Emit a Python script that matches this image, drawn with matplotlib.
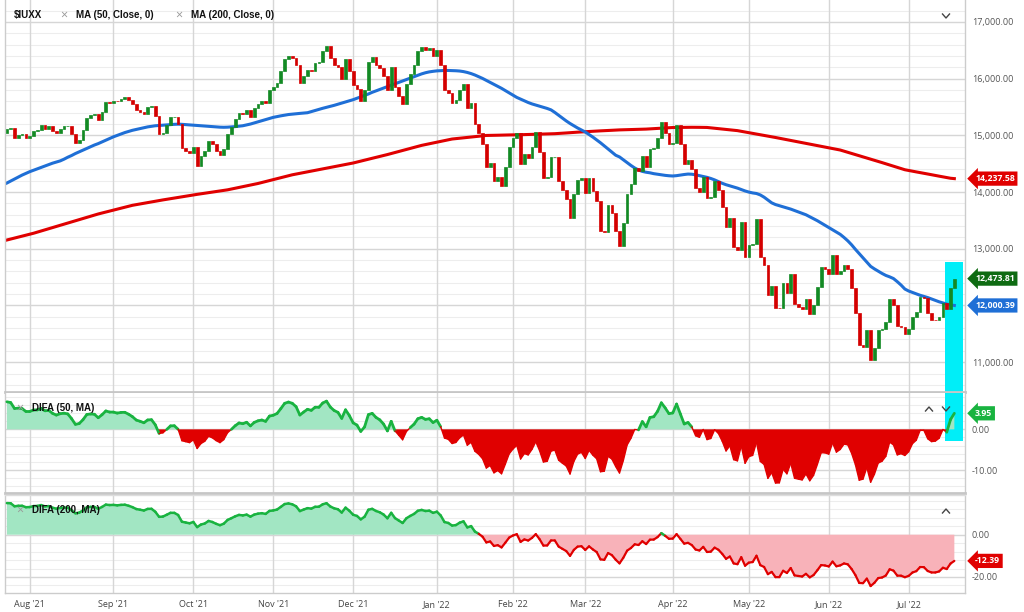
import numpy as np
import pandas as pd
import matplotlib
matplotlib.use("Agg")
import matplotlib.pyplot as plt
from matplotlib.collections import LineCollection
from matplotlib.lines import Line2D
from matplotlib.patches import Rectangle

plt.rcParams['font.family'] = ['Open Sans', 'DejaVu Sans']

# trading days shown (NYSE calendar)
holidays = ['2021-09-06', '2021-11-25', '2021-12-24', '2022-01-17', '2022-02-21',
            '2022-04-15', '2022-05-30', '2022-06-20', '2022-07-04']
dates = pd.bdate_range('2021-07-23', '2022-07-20', freq='C', holidays=holidays)

# daily closes of $IUXX
prev_close = 15050
close = [
    15120, 15130, 14960, 15010, 15030, 14960,
    14990, 15070, 15100, 15180, 15120, 15160, 15080, 15040, 15110, 15160,
    15170, 15030, 14860, 14920, 15090, 15310, 15360, 15380, 15280, 15420,
    15590, 15580,
    15610, 15600, 15650, 15680, 15630, 15560, 15450, 15420, 15380, 15500,
    15520, 15340, 15020, 15050, 15180, 15320, 15330, 15200, 14770, 14730,
    14690,
    14790, 14460, 14640, 14720, 14900, 14840, 14730, 14650, 14760, 15020,
    15150, 15290, 15400, 15380, 15450, 15330, 15480, 15560, 15610, 15580,
    15800,
    15850, 15930, 16130, 16340, 16400, 16360, 16240, 15930, 16050, 16160,
    16140, 16280, 16300, 16480, 16570, 16360, 16250, 16200, 15990, 16340,
    16140,
    15880, 15820, 15600, 15800, 16300, 16380, 16250, 16180, 16040, 15800,
    16200, 15850, 15700, 15550, 15900, 16080, 16240, 16480, 16560, 16500,
    16540, 16400,
    16500, 16250, 15800, 15750, 15580, 15620, 15800, 15900, 15480, 15580,
    15200, 15050, 14850, 14450, 14520, 14200, 14260, 14100, 14440, 14800,
    14950, 15050, 14500, 14680, 14600, 14790, 15060, 14700, 14250, 14260,
    14620, 14620, 14190, 14030, 13880, 13540, 13970, 14210, 14240,
    13980, 14240, 14020, 13840, 13320, 13290, 13780, 13630, 13310, 13050,
    13450, 13960, 14150, 14420, 14370, 14640, 14440, 14760, 14770, 14950,
    15240, 15050, 14840,
    14860, 15180, 14840, 14500, 14560, 14400, 14080, 14010, 14270, 13900,
    13920, 14200, 14040, 13740, 13380, 13540, 13040, 12980, 13470, 12850,
    13060, 13090, 13530, 12850, 12710, 12190, 12340, 11960, 11950, 12390,
    12220, 12560, 12030, 11980, 11930, 12110, 11850, 12000, 12330, 12680,
    12640,
    12560, 12890, 12550, 12600, 12720, 12640, 12300, 11860, 11300, 11270,
    11570, 11040, 11250, 11560, 11580, 11700, 12110, 12000, 11640, 11620,
    11500,
    11580, 11800, 11880, 12150, 12130, 11860, 11750, 11740, 11800, 12040,
    11940, 12300, 12473.81,
]

# MA (50, Close)
ma50 = [
    14160, 14195, 14230, 14265, 14300, 14330, 14360, 14385, 14410, 14435,
    14460, 14485, 14510, 14530, 14550, 14580, 14615, 14645, 14680, 14710,
    14740, 14770, 14800, 14830, 14855, 14885, 14915, 14945, 14975, 15000,
    15025, 15050, 15070, 15090, 15105, 15120, 15135, 15150, 15160, 15170,
    15175, 15180, 15185, 15190, 15195, 15198, 15195, 15190, 15185, 15180,
    15175, 15170, 15165, 15160, 15155, 15150, 15145, 15143, 15145, 15150,
    15155, 15162, 15170, 15185, 15200, 15220, 15240, 15260, 15280, 15300,
    15318, 15332, 15345, 15357, 15368, 15375, 15382, 15388, 15394, 15400,
    15420, 15440, 15460, 15478, 15495, 15510, 15530, 15550, 15570, 15590,
    15610, 15630, 15655, 15680, 15705, 15730, 15760, 15785, 15810, 15835,
    15860, 15885, 15910, 15935, 15960, 15985, 16010, 16035, 16060, 16085,
    16105, 16120, 16130, 16138, 16142, 16145, 16145, 16143, 16140, 16135,
    16125, 16110, 16090, 16065, 16035, 16005, 15970, 15935, 15900, 15865,
    15830, 15790, 15750, 15710, 15670, 15640, 15610, 15580, 15555, 15535,
    15515, 15495, 15475, 15450, 15405, 15355, 15305, 15255, 15210, 15170,
    15130, 15095, 15060, 15015, 14970, 14920, 14870, 14815, 14760, 14705,
    14650, 14620, 14570, 14520, 14470, 14425, 14390, 14365, 14350, 14340,
    14325, 14315, 14305, 14295, 14288, 14284, 14290, 14300, 14310, 14318,
    14315, 14305, 14290, 14275, 14260, 14240, 14215, 14185, 14155, 14130,
    14110, 14090, 14070, 14045, 14020, 14000, 13985, 13975, 13950, 13910,
    13860, 13810, 13780, 13760, 13740, 13720, 13700, 13675, 13650, 13625,
    13600, 13565, 13530, 13495, 13455, 13415, 13375, 13335, 13295, 13255,
    13200, 13140, 13070, 12990, 12915, 12840, 12765, 12690, 12645, 12605,
    12565, 12530, 12505, 12475, 12420, 12360, 12290, 12255, 12230, 12205,
    12180, 12160, 12140, 12115, 12090, 12065, 12045, 12025, 12010, 12000.39,
]

# MA (200, Close)
ma200 = [
    13155, 13172, 13189, 13206, 13223, 13240, 13257, 13274, 13294, 13314,
    13334, 13354, 13374, 13394, 13414, 13434, 13454, 13474, 13494, 13514,
    13534, 13554, 13574, 13594, 13614, 13631, 13648, 13665, 13682, 13699,
    13716, 13733, 13750, 13767, 13779, 13791, 13803, 13815, 13827, 13839,
    13851, 13862, 13873, 13884, 13895, 13906, 13917, 13928, 13939, 13950,
    13960, 13970, 13980, 13990, 14000, 14010, 14020, 14030, 14040, 14054,
    14068, 14082, 14096, 14110, 14124, 14138, 14152, 14169, 14186, 14203,
    14220, 14237, 14254, 14271, 14288, 14305, 14318, 14331, 14344, 14357,
    14370, 14383, 14396, 14409, 14422, 14435, 14448, 14461, 14474, 14487,
    14500, 14513, 14530, 14546, 14563, 14579, 14596, 14612, 14629, 14645,
    14662, 14680, 14698, 14716, 14734, 14752, 14770, 14788, 14806, 14824,
    14838, 14852, 14866, 14880, 14894, 14908, 14922, 14936, 14943, 14950,
    14957, 14964, 14971, 14978, 14985, 14992, 14999, 15000, 15002, 15003,
    15005, 15006, 15008, 15009, 15011, 15012, 15014, 15016, 15018, 15020,
    15022, 15024, 15026, 15028, 15030, 15034, 15039, 15043, 15048, 15052,
    15057, 15061, 15066, 15069, 15073, 15076, 15080, 15083, 15087, 15090,
    15094, 15097, 15099, 15101, 15103, 15105, 15107, 15109, 15111, 15115,
    15119, 15123, 15127, 15131, 15135, 15139, 15140, 15141, 15142, 15143,
    15143, 15143, 15142, 15141, 15140, 15133, 15126, 15119, 15112, 15105,
    15098, 15091, 15084, 15072, 15060, 15048, 15036, 15024, 15012, 15000,
    14988, 14976, 14963, 14950, 14937, 14924, 14911, 14898, 14885, 14872,
    14859, 14846, 14833, 14820, 14807, 14794, 14781, 14768, 14755, 14742,
    14722, 14702, 14682, 14662, 14642, 14622, 14602, 14582, 14562, 14541,
    14520, 14499, 14478, 14457, 14436, 14415, 14394, 14381, 14369, 14356,
    14344, 14331, 14319, 14306, 14294, 14281, 14269, 14256, 14244, 14237.58,
]

close = np.array(close, dtype=float)
ma50 = np.array(ma50, dtype=float)
ma200 = np.array(ma200, dtype=float)
x = np.arange(len(close))
opens = np.r_[prev_close, close[:-1]]

# DIFA = percent distance of close from the moving average
difa50 = (close / ma50 - 1) * 100
difa200 = (close / ma200 - 1) * 100

GREEN_C = '#138a24'
RED_C = '#d40000'
BLUE = '#1f6fd6'
RED = '#e00000'
LGREEN = '#19b340'
MINT = '#a2e6c3'
PINK = '#f8b2b9'
CYAN = '#00eef8'
GRID = '#d6d6d6'
MINOR = '#ededed'
SEP = '#c6c6c6'

W, H = 1024, 612
fig = plt.figure(figsize=(W / 100, H / 100), dpi=100)


def px_axes(x0, y0, x1, y1):
    return fig.add_axes([x0 / W, 1 - y1 / H, (x1 - x0) / W, (y1 - y0) / H])


ax1 = px_axes(5, 0, 965, 392)
ax2 = px_axes(5, 393, 965, 493)
ax3 = px_axes(5, 495, 965, 593)

month_idx = [i for i in range(1, len(dates)) if dates[i].month != dates[i - 1].month]
month_lab = [dates[i].strftime("%b '%y") for i in month_idx]

for ax in (ax1, ax2, ax3):
    ax.set_xlim(-0.5, 251.8)
    ax.set_facecolor('white')
    for i in month_idx:
        ax.axvline(i, color=GRID, lw=1, zorder=0.5)
    ax.yaxis.tick_right()
    ax.tick_params(axis='y', length=0, pad=5, labelsize=6.5, labelcolor='#555555')
    ax.tick_params(axis='x', length=0)
    ax.set_xticks([])
    for s in ('left', 'right'):
        ax.spines[s].set_color('#cccccc')
        ax.spines[s].set_linewidth(1)
    ax.spines['top'].set_visible(False)
    ax.spines['bottom'].set_color(SEP)
    ax.spines['bottom'].set_linewidth(2)
ax3.spines['top'].set_visible(True)
ax3.spines['top'].set_color('#dddddd')
ax3.spines['top'].set_linewidth(1)
ax3.spines['bottom'].set_linewidth(1)
ax3.spines['bottom'].set_color('#cccccc')


def hgrid(ax, majors, minors):
    for v in minors:
        ax.axhline(v, color=MINOR, lw=0.8, zorder=0.4)
    for v in majors:
        ax.axhline(v, color=GRID, lw=1, zorder=0.6)


# ---- price panel
ax1.set_ylim(10474, 17388)
majors = np.arange(11000, 17001, 1000)
hgrid(ax1, majors, np.arange(10600, 17400, 200))
# the 12,000 label sits under the MA(50) value tag
shown = [v for v in majors if v != 12000]
ax1.set_yticks(shown)
ax1.set_yticklabels([f'{v:,.2f}' for v in shown])

ax1.add_patch(Rectangle((246.5, 10474), 4.7, 12767 - 10474, color=CYAN, zorder=1, lw=0))
ax1.plot(x, ma200, color=RED, lw=2.2, zorder=2)
ax1.plot(x, ma50, color=BLUE, lw=2.2, zorder=2)
cols = np.where(close >= opens, GREEN_C, RED_C)
ax1.bar(x, close - opens, bottom=opens, width=0.72, color=cols, edgecolor=cols,
        linewidth=0.5, zorder=3)

# ---- DIFA (50, MA)
ax2.set_ylim(-15.65, 8.94)
hgrid(ax2, [0, -10], np.arange(-14, 9, 2))
ax2.set_yticks([0, -10])
ax2.set_yticklabels(['0.00', '-10.00'])
ax2.add_patch(Rectangle((246.5, -2.9), 4.7, 12, color=CYAN, zorder=1, lw=0))
ax2.fill_between(x, difa50, 0, where=difa50 >= 0, interpolate=True, color=MINT, lw=0, zorder=2)
ax2.fill_between(x, difa50, 0, where=difa50 <= 0, interpolate=True, color=RED, lw=0, zorder=2)

# ---- DIFA (200, MA)
ax3.set_ylim(-27.57, 18.77)
hgrid(ax3, [0, -20], np.arange(-24, 18, 4))
ax3.set_yticks([0, -20])
ax3.set_yticklabels(['0.00', '-20.00'])
ax3.fill_between(x, difa200, 0, where=difa200 >= 0, interpolate=True, color=MINT, lw=0, zorder=2)
ax3.fill_between(x, difa200, 0, where=difa200 <= 0, interpolate=True, color=PINK, lw=0, zorder=2)


def sign_line(ax, y, pos_color, neg_color, lw_pos, lw_neg):
    pts = np.column_stack([x, y])
    segs = np.stack([pts[:-1], pts[1:]], axis=1)
    mid = (y[:-1] + y[1:]) / 2
    colors = np.where(mid >= 0, pos_color, neg_color)
    widths = np.where(mid >= 0, lw_pos, lw_neg)
    ax.add_collection(LineCollection(segs, colors=colors, linewidths=widths,
                                     capstyle='round', joinstyle='round', zorder=3))


sign_line(ax2, difa50, LGREEN, RED, 2.0, 1.0)
sign_line(ax3, difa200, LGREEN, RED, 1.8, 1.6)

# x axis labels
ax3.set_xticks(month_idx)
ax3.set_xticklabels(month_lab, fontsize=6.5, color='#444444')
ax3.tick_params(axis='x', length=0, pad=5)


# ---- value tags on the right axis
def tag(ax, y, text, color):
    ax.text(1.0105, y, text, transform=ax.get_yaxis_transform(), ha='left', va='center',
            color='white', fontsize=6.3, fontweight='bold', clip_on=False, zorder=10,
            bbox=dict(boxstyle='larrow,pad=0.3', fc=color, ec='none'))


tag(ax1, ma200[-1], f'{ma200[-1]:,.2f}', RED)
tag(ax1, close[-1], f'{close[-1]:,.2f}', '#0e6b12')
tag(ax1, ma50[-1], f'{ma50[-1]:,.2f}', BLUE)
tag(ax2, difa50[-1], f'{difa50[-1]:.2f}', LGREEN)
tag(ax3, difa200[-1], f'{difa200[-1]:.2f}', RED)

# ---- legends
lfont = dict(family=['Liberation Sans', 'DejaVu Sans'], fontweight='bold', fontsize=7,
             color='#111111', va='center', ha='left', zorder=10)


def ftext(px, py, s, **kw):
    fig.text(px / W, 1 - py / H, s, **kw)


ftext(14, 15, '$IUXX', **lfont)
ftext(60, 15, '×', fontsize=9, color='#999999', va='center', ha='left')
ftext(76, 15, 'MA (50, Close, 0)', **lfont)
ftext(175, 15, '×', fontsize=9, color='#999999', va='center', ha='left')
ftext(191, 15, 'MA (200, Close, 0)', **lfont)
ftext(16, 408, '×', fontsize=9, color='#999999', va='center', ha='left')
ftext(32, 408, 'DIFA (50, MA)', **lfont)
ftext(16, 510, '×', fontsize=9, color='#999999', va='center', ha='left')
ftext(32, 510, 'DIFA (200, MA)', **lfont)


def chevron(cx, cy, up):
    d = -2 if up else 2
    xs = [(cx - 3.5) / W, cx / W, (cx + 3.5) / W]
    ys = [1 - (cy - d) / H, 1 - (cy + d) / H, 1 - (cy - d) / H]
    fig.add_artist(Line2D(xs, ys, transform=fig.transFigure, color='#444444', lw=1))


chevron(946, 16, False)
chevron(929, 409, True)
chevron(946, 409, False)
chevron(946, 511, True)

fig.savefig('out.png', dpi=100)
